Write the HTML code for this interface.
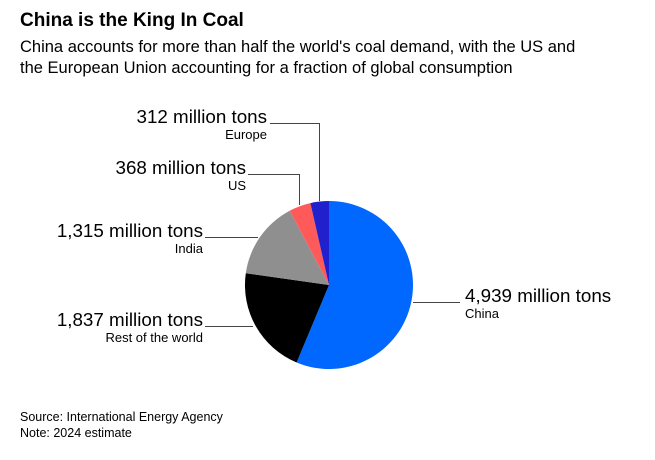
<!DOCTYPE html>
<html><head><meta charset="utf-8"><style>
body{margin:0;background:#fff;width:655px;height:455px;overflow:hidden;font-family:"Liberation Sans",sans-serif;}
</style></head><body>
<svg width="655" height="455" xmlns="http://www.w3.org/2000/svg" font-family="Liberation Sans, sans-serif">
<text x="20" y="26" font-size="19" font-weight="bold" fill="#000">China is the King In Coal</text>
<text x="20" y="52" font-size="16.5" fill="#000">China accounts for more than half the world's coal demand, with the US and</text>
<text x="20" y="73" font-size="16.5" fill="#000">the European Union accounting for a fraction of global consumption</text>
<path d="M329,285 L329,201 A84,84 0 1,1 296.6,362.5 Z" fill="#0068ff"/>
<path d="M329,285 L296.6,362.5 A84,84 0 0,1 245.8,273.2 Z" fill="#000"/>
<path d="M329,285 L245.8,273.2 A84,84 0 0,1 289.7,210.7 Z" fill="#8f8f8f"/>
<path d="M329,285 L289.7,210.7 A84,84 0 0,1 310.4,203.1 Z" fill="#ff5a5a"/>
<path d="M329,285 L310.4,203.1 A84,84 0 0,1 329,201 Z" fill="#2020cc"/>
<g stroke="#444" stroke-width="1" fill="none">
<polyline points="270,123.5 319.5,123.5 319.5,201"/>
<polyline points="248,174.5 299.5,174.5 299.5,205"/>
<polyline points="205,237.5 258,237.5"/>
<polyline points="205,326.5 253,326.5"/>
<polyline points="413,302.5 460,302.5"/>
</g>
<g fill="#000">
<text x="267" y="123" font-size="18.8" text-anchor="end">312 million tons</text>
<text x="267" y="139" font-size="13" text-anchor="end">Europe</text>
<text x="246" y="174" font-size="18.8" text-anchor="end">368 million tons</text>
<text x="246" y="190" font-size="13" text-anchor="end">US</text>
<text x="203" y="237" font-size="18.8" text-anchor="end">1,315 million tons</text>
<text x="203" y="253" font-size="13" text-anchor="end">India</text>
<text x="203" y="326" font-size="18.8" text-anchor="end">1,837 million tons</text>
<text x="203" y="342" font-size="13" text-anchor="end">Rest of the world</text>
<text x="465" y="302" font-size="18.8">4,939 million tons</text>
<text x="465" y="318" font-size="13">China</text>
<text x="20" y="421" font-size="12.5">Source: International Energy Agency</text>
<text x="20" y="437" font-size="12.5">Note: 2024 estimate</text>
</g>
</svg>
</body></html>
